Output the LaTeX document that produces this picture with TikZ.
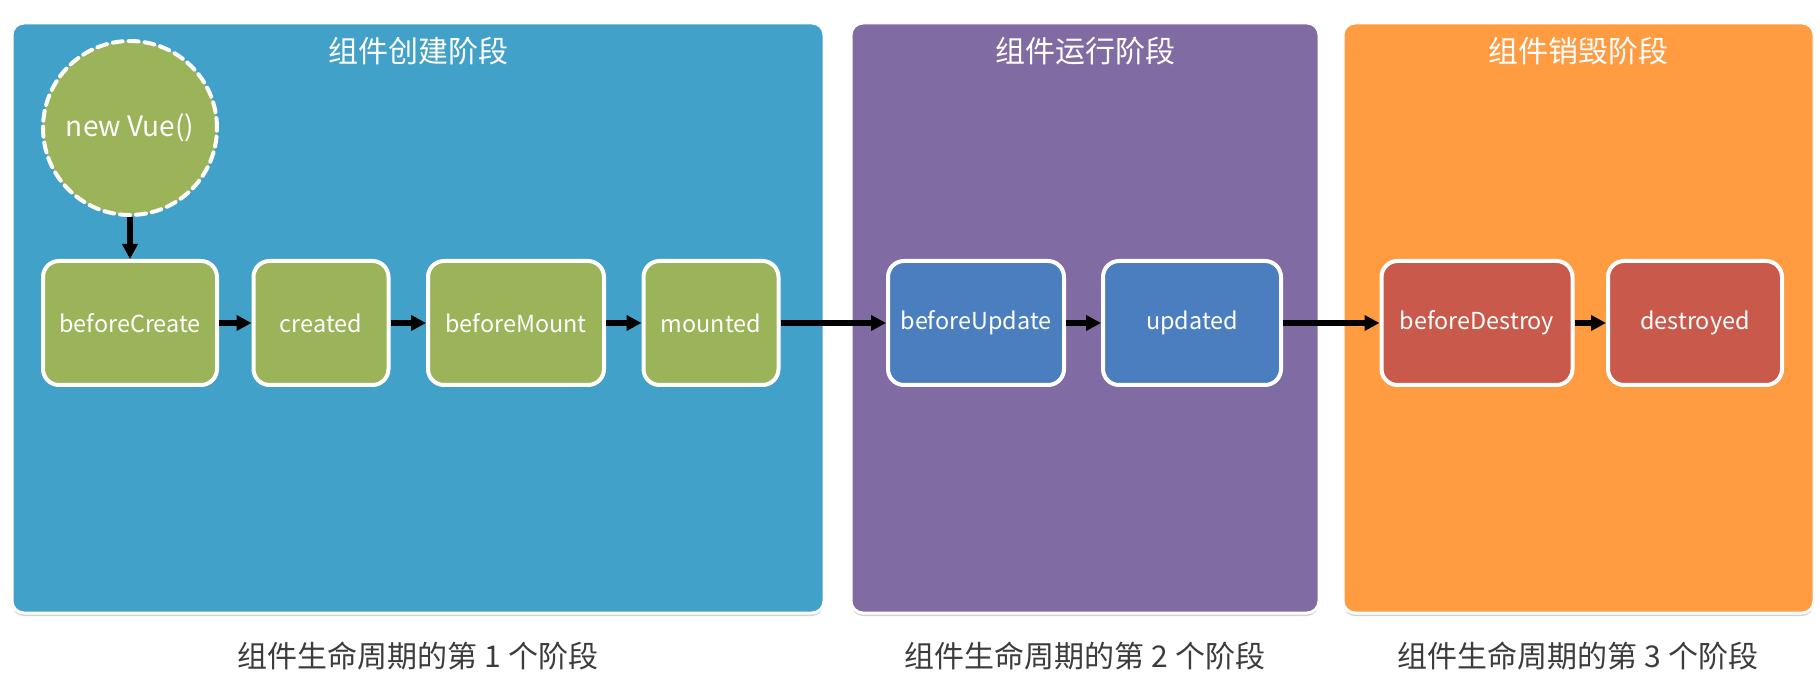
\documentclass[tikz,border=0pt]{standalone}
\usepackage{fontspec}
\setmainfont{Noto Sans CJK SC}
\usetikzlibrary{arrows.meta,shadows}
\definecolor{createblue}{RGB}{66,161,200}
\definecolor{runpurple}{RGB}{128,107,163}
\definecolor{killorange}{RGB}{255,155,64}
\definecolor{hookgreen}{RGB}{155,179,89}
\definecolor{hookblue}{RGB}{74,126,191}
\definecolor{hookred}{RGB}{201,89,74}
\definecolor{captiongray}{RGB}{60,60,60}

\begin{document}
\begin{tikzpicture}[x=0.5pt,y=-0.5pt,line cap=round,
  phase/.style={draw=white,line width=1.5pt,rounded corners=6pt,
    drop shadow={shadow xshift=0pt,shadow yshift=-1.5pt,opacity=0.35}},
  hook/.style={draw=white,line width=2pt,rounded corners=8pt,
    minimum height=62pt,text=white,font=\fontsize{11.7}{14}\selectfont,
    drop shadow={shadow xshift=0.5pt,shadow yshift=-1pt,opacity=0.3}},
  flow/.style={-{Triangle[length=7.5pt,width=7.5pt]},line width=3pt,line cap=butt}]
  % page and the three phases
  \fill[white] (0,0) rectangle (1820,676);
  \draw[phase,fill=createblue] (12,23) rectangle (824,613);
  \draw[phase,fill=runpurple] (851,23) rectangle (1319,613);
  \draw[phase,fill=killorange] (1343,23) rectangle (1814,613);
  \foreach \c/\n/\t/\k in {418/tcreate/组件创建阶段/1,1085/trun/组件运行阶段/2,1578/tkill/组件销毁阶段/3}{
    \node[text=white,font=\fontsize{15}{17}\selectfont] (\n) at (\c,51) {\t};
    \node[text=captiongray,font=\fontsize{15}{17}\selectfont] (cap\k) at (\c,656) {组件生命周期的第 \k{} 个阶段};
  }
  % hooks
  \node[circle,draw=white,dash pattern=on 5pt off 3pt,line width=2pt,fill=hookgreen,
    minimum size=87pt,text=white,font=\fontsize{14}{16}\selectfont] (newvue) at (130,128) {new Vue()};
  \node[hook,fill=hookgreen,minimum width=87pt] (bcreate) at (130,323) {beforeCreate};
  \node[hook,fill=hookgreen,minimum width=67.5pt] (created) at (321,323) {created};
  \node[hook,fill=hookgreen,minimum width=88pt] (bmount) at (516,323) {beforeMount};
  \node[hook,fill=hookgreen,minimum width=67.5pt] (mounted) at (711,323) {mounted};
  \node[hook,fill=hookblue,minimum width=88pt] (bupdate) at (976,323) {beforeUpdate};
  \node[hook,fill=hookblue,minimum width=89pt] (updated) at (1192,323) {updated};
  \node[hook,fill=hookred,minimum width=95.5pt] (bdestroy) at (1477,323) {beforeDestroy};
  \node[hook,fill=hookred,minimum width=87pt] (destroyed) at (1695,323) {destroyed};
  % order of the calls
  \draw[flow] (newvue) -- (bcreate);
  \draw[flow] (bcreate) -- (created);
  \draw[flow] (created) -- (bmount);
  \draw[flow] (bmount) -- (mounted);
  \draw[flow] (mounted) -- (bupdate);
  \draw[flow] (bupdate) -- (updated);
  \draw[flow] (updated) -- (bdestroy);
  \draw[flow] (bdestroy) -- (destroyed);
\end{tikzpicture}
\end{document}
